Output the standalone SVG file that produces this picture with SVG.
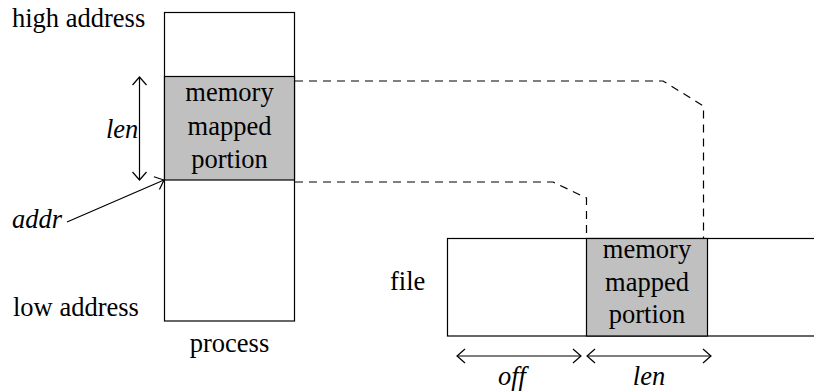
<svg xmlns="http://www.w3.org/2000/svg" width="814" height="392" viewBox="0 0 814 392">
  <style>
    text { fill: #000; font-size: 26.5px; }
    .it { font-style: italic; }
    .mid { text-anchor: middle; }
    .box { fill: #fff; stroke: #000; stroke-width: 1.2; }
    .mapped { fill: #c0c0c0; stroke: #000; stroke-width: 1.2; }
    .dash { fill: none; stroke: #000; stroke-width: 1.2; stroke-dasharray: 8 6; }
    .dim { fill: none; stroke: #000; stroke-width: 1.2; }
  </style>
  <defs>
    <marker id="open" markerUnits="userSpaceOnUse" markerWidth="20" markerHeight="20" refX="0" refY="0" viewBox="-10 -10 20 20" orient="auto-start-reverse">
      <path d="M-8,-7 L0,0 L-8,7" fill="none" stroke="#000" stroke-width="1.2"/>
    </marker>
  </defs>

  <rect width="814" height="392" fill="#fff"/>

  <g font-family="Liberation Serif, serif">
  <!-- process address space -->
  <g id="process">
    <rect class="box" x="164.5" y="12.5" width="130" height="308.5"/>
    <rect class="mapped" x="164.5" y="76.5" width="130" height="103.5"/>
    <text class="mid" x="229.5" y="101" font-family="Liberation Serif">memory</text>
    <text class="mid" x="229.5" y="135" font-family="Liberation Serif">mapped</text>
    <text class="mid" x="229.5" y="168" font-family="Liberation Serif">portion</text>
    <text class="mid" x="229.5" y="352" font-family="Liberation Serif">process</text>
  </g>

  <g id="high-address"><text x="12" y="27" font-family="Liberation Serif">high address</text></g>
  <g id="low-address"><text x="13" y="316" font-family="Liberation Serif">low address</text></g>

  <!-- file on disk -->
  <g id="file">
    <rect class="box" x="447.5" y="238.5" width="380" height="97.5"/>
    <rect class="mapped" x="586.5" y="238.5" width="121" height="97.5"/>
    <text class="mid" x="647" y="258" font-family="Liberation Serif">memory</text>
    <text class="mid" x="647" y="291" font-family="Liberation Serif">mapped</text>
    <text class="mid" x="647" y="323" font-family="Liberation Serif">portion</text>
    <text x="390" y="290" font-family="Liberation Serif">file</text>
  </g>

  <g id="connectors">
    <!-- mapping of region edges -->
    <path class="dash" d="M295,81 H663 L703.5,106 V238"/>
    <path class="dash" d="M295,182 H553 L586.5,198 V238"/>
    <!-- len on process side -->
    <line class="dim" x1="139.5" y1="77" x2="139.5" y2="180" marker-start="url(#open)" marker-end="url(#open)"/>
    <!-- addr pointer -->
    <line class="dim" x1="67" y1="222" x2="164" y2="180" marker-end="url(#open)"/>
    <!-- off and len on file side -->
    <line class="dim" x1="457" y1="356" x2="581" y2="356" marker-start="url(#open)" marker-end="url(#open)"/>
    <line class="dim" x1="587" y1="356" x2="711" y2="356" marker-start="url(#open)" marker-end="url(#open)"/>
  </g>

  <g id="labels">
    <text class="it" x="106" y="138" font-family="Liberation Serif">len</text>
    <text class="it" x="12" y="228" font-family="Liberation Serif">addr</text>
    <text class="it mid" x="512" y="385" font-family="Liberation Serif">off</text>
    <text class="it mid" x="649" y="385" font-family="Liberation Serif">len</text>
  </g>
  </g>
</svg>
